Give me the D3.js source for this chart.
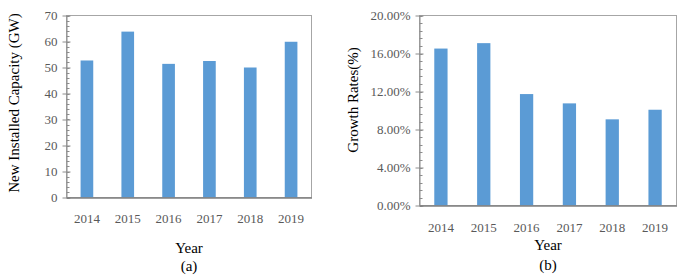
<!DOCTYPE html>
<html>
<head>
<meta charset="utf-8">
<script src="https://cdn.jsdelivr.net/npm/d3@7"></script>
<style>
  body { margin: 0; background: #fff; }
  svg text { font-family: "Liberation Serif", "Times New Roman", serif; }
</style>
</head>
<body>
<svg id="chart" width="686" height="276"></svg>
<script>
// data
const years = ['2014', '2015', '2016', '2017', '2018', '2019'];
const capacity = [52.7, 63.8, 51.4, 52.5, 50.0, 59.9];
const growth = [0.1652, 0.1709, 0.1173, 0.1075, 0.0907, 0.1008];
const capacityTicks = [0, 10, 20, 30, 40, 50, 60, 70];
const growthTicks = [0, 0.04, 0.08, 0.12, 0.16, 0.20];

const svg = d3.select('#chart');
const barColor = '#5b9bd5';
const tickColor = '#595959';

function drawPanel(opts) {
  const { left, right, top, bottom, values, maxValue, ticks, minorStep, fmt,
    yLabel, yLabelX, yLabelY, xTickY, yearY, captionY, caption } = opts;

  const x = d3.scaleBand()
    .domain(years)
    .range([left, right])
    .paddingInner(0.69)
    .paddingOuter(0.345);

  const y = d3.scaleLinear()
    .domain([0, maxValue])
    .range([bottom, top]);

  const g = svg.append('g');

  // frame
  g.append('rect')
    .attr('x', left)
    .attr('y', top)
    .attr('width', right - left)
    .attr('height', bottom - top)
    .attr('fill', 'none')
    .attr('stroke', '#a6a6a6')
    .attr('stroke-width', 1);

  // bars
  g.selectAll('rect.bar')
    .data(values)
    .enter()
    .append('rect')
    .attr('class', 'bar')
    .attr('x', (d, i) => x(years[i]))
    .attr('y', (d) => y(d))
    .attr('width', x.bandwidth())
    .attr('height', (d) => y(0) - y(d))
    .attr('fill', barColor);

  // minor ticks
  const minor = d3.range(0, maxValue + minorStep / 2, minorStep);
  g.selectAll('line.minor')
    .data(minor)
    .enter()
    .append('line')
    .attr('class', 'minor')
    .attr('x1', left)
    .attr('x2', left + 3)
    .attr('y1', (d) => Math.round(y(d)) + 0.5)
    .attr('y2', (d) => Math.round(y(d)) + 0.5)
    .attr('stroke', '#8c8c8c');

  // y axis
  const yAxis = d3.axisLeft(y)
    .tickValues(ticks)
    .tickFormat(fmt)
    .tickSizeInner(4)
    .tickSizeOuter(0)
    .tickPadding(5);

  const yAxisG = g.append('g')
    .attr('transform', `translate(${left}, 0)`)
    .call(yAxis);
  yAxisG.select('.domain').attr('stroke', '#8c8c8c');
  yAxisG.selectAll('.tick line').attr('stroke', '#8c8c8c').attr('x2', 4).attr('x1', -4);
  yAxisG.selectAll('.tick text')
    .attr('fill', tickColor)
    .style('font-size', '13px');

  // x axis
  const xAxis = d3.axisBottom(x).tickSize(0).tickPadding(0);
  const xAxisG = g.append('g')
    .attr('transform', `translate(0, ${bottom})`)
    .call(xAxis);
  xAxisG.select('.domain').attr('stroke', '#7f7f7f').attr('stroke-width', 1.5);
  xAxisG.selectAll('.tick text')
    .attr('fill', tickColor)
    .attr('dy', null)
    .attr('y', xTickY - bottom)
    .style('font-size', '13px');

  // labels
  const cx = (left + right) / 2;
  g.append('text')
    .attr('transform', `translate(${yLabelX}, ${yLabelY}) rotate(-90)`)
    .attr('text-anchor', 'middle')
    .style('font-size', '15px')
    .text(yLabel);

  g.append('text')
    .attr('x', cx)
    .attr('y', yearY)
    .attr('text-anchor', 'middle')
    .style('font-size', '15px')
    .text('Year');

  g.append('text')
    .attr('x', cx)
    .attr('y', captionY)
    .attr('text-anchor', 'middle')
    .style('font-size', '15px')
    .text(caption);
}

drawPanel({
  left: 66.5, right: 311.5, top: 15.5, bottom: 197.5,
  values: capacity, maxValue: 70, ticks: capacityTicks, minorStep: 2,
  fmt: d3.format('d'),
  yLabel: 'New Installed Capacity (GW)', yLabelX: 19, yLabelY: 103,
  xTickY: 223, yearY: 253, captionY: 271, caption: '(a)'
});

drawPanel({
  left: 419.5, right: 676.5, top: 15.5, bottom: 205.5,
  values: growth, maxValue: 0.20, ticks: growthTicks, minorStep: 0.008,
  fmt: d3.format('.2%'),
  yLabel: 'Growth Rates(%)', yLabelX: 358, yLabelY: 100,
  xTickY: 232, yearY: 250, captionY: 270, caption: '(b)'
});
</script>
</body>
</html>
